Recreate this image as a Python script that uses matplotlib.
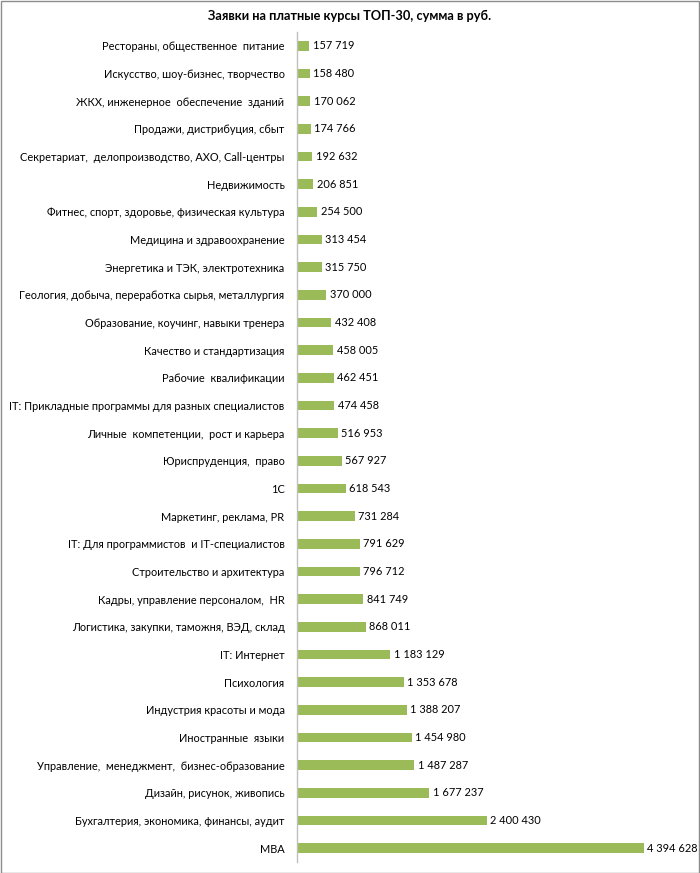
import matplotlib
matplotlib.use("Agg")
import matplotlib.pyplot as plt
from matplotlib.patches import Rectangle

categories = [
    "Рестораны, общественное  питание",
    "Искусство, шоу-бизнес, творчество",
    "ЖКХ, инженерное  обеспечение  зданий",
    "Продажи, дистрибуция, сбыт",
    "Секретариат,  делопроизводство, АХО, Call-центры",
    "Недвижимость",
    "Фитнес, спорт, здоровье, физическая культура",
    "Медицина и здравоохранение",
    "Энергетика и ТЭК, электротехника",
    "Геология, добыча, переработка сырья, металлургия",
    "Образование, коучинг, навыки тренера",
    "Качество и стандартизация",
    "Рабочие  квалификации",
    "IT: Прикладные программы для разных специалистов",
    "Личные  компетенции,  рост и карьера",
    "Юриспруденция,  право",
    "1С",
    "Маркетинг, реклама, PR",
    "IT: Для программистов  и IT-специалистов",
    "Строительство и архитектура",
    "Кадры, управление персоналом,  HR",
    "Логистика, закупки, таможня, ВЭД, склад",
    "IT: Интернет",
    "Психология",
    "Индустрия красоты и мода",
    "Иностранные  языки",
    "Управление,  менеджмент,  бизнес-образование",
    "Дизайн, рисунок, живопись",
    "Бухгалтерия, экономика, финансы, аудит",
    "MBA",
]
values = [157719, 158480, 170062, 174766, 192632, 206851, 254500, 313454,
          315750, 370000, 432408, 458005, 462451, 474458, 516953, 567927,
          618543, 731284, 791629, 796712, 841749, 868011, 1183129, 1353678,
          1388207, 1454980, 1487287, 1677237, 2400430, 4394628]
title = "Заявки на платные курсы ТОП-30, сумма в руб."

plt.rcParams['font.family'] = ['Lato', 'DejaVu Sans']

W, H = 700, 873
fig = plt.figure(figsize=(W / 100, H / 100), dpi=100)
left, right, top, bottom = 297, 690, 32, 862
ax = fig.add_axes([left / W, 1 - bottom / H, (right - left) / W, (bottom - top) / H])

xmax = values[-1] * (right - left) / (644 - left)
ax.set_xlim(0, xmax)
ax.set_ylim(len(values) - 0.5, -0.5)

ypos = list(range(len(values)))
ax.barh(ypos, values, height=0.36, color="#9BBB59", zorder=2)

def fmt(v):
    return f"{v:,}".replace(",", " ")

for y, v in zip(ypos, values):
    ax.annotate(fmt(v), (v, y), xytext=(2.5, 0), textcoords="offset points",
                ha="left", va="center", fontsize=7.9, color="#000000")

ax.set_yticks(ypos)
ax.set_yticklabels(categories, fontsize=7.95)
ax.tick_params(axis="y", length=0, pad=9)
ax.set_xticks([])
for s in ["top", "right", "bottom"]:
    ax.spines[s].set_visible(False)
ax.spines["left"].set_color("#BFBFBF")
ax.spines["left"].set_linewidth(1)

fig.text(0.5, 1 - 16 / H, title, ha="center", va="center", fontsize=9.2, fontweight="bold")

fig.patches.append(Rectangle((0.5 / W, 0.5 / H), 1 - 1.5 / W, 1 - 1.5 / H, transform=fig.transFigure,
                             fill=False, edgecolor="#8C8C8C", linewidth=1, zorder=10))

fig.savefig("out.png", dpi=100)
